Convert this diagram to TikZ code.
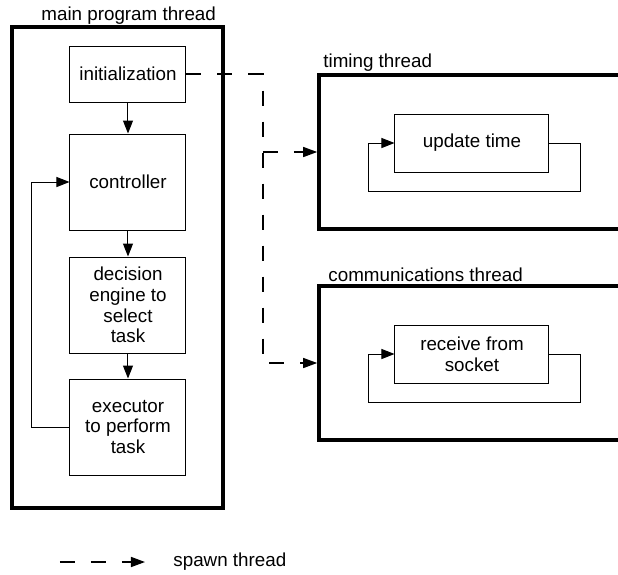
\documentclass[tikz,border=0pt]{standalone}
\usepackage{fontspec}
\setmainfont{Liberation Sans}
\usetikzlibrary{arrows.meta}
\begin{document}
\begin{tikzpicture}[x=0.5pt, y=-0.5pt,
  every node/.style={font=\fontsize{9.4}{10.3}\selectfont, inner sep=0pt},
  taskbox/.style={draw, line width=0.5pt, minimum width=58pt, align=center},
  threadbox/.style={draw, line width=1.8pt, minimum width=166pt, minimum height=77pt},
  flowarrow/.style={line width=0.5pt, -{Triangle[length=6.5pt,width=5pt]}},
  spawn/.style={line width=0.7pt, dash pattern=on 7.5pt off 8pt, -{Triangle[length=7pt,width=5pt]}}]
  \useasboundingbox (0,0) rectangle (618,575);
  \clip (0,0) rectangle (618,575);
  % main program thread
  \node[draw, line width=1.8pt, minimum width=105.5pt, minimum height=240.5pt] (main) at (117.5,267.5) {};
  \node[anchor=base west] (mainlab) at (41,20) {main program thread};
  \node[taskbox, minimum height=28pt] (init) at (128,74) {initialization};
  \node[taskbox, minimum height=48pt] (ctrl) at (128,182) {controller};
  \node[taskbox, minimum height=48pt] (decide) at (128,305) {decision\\engine to\\select\\task};
  \node[taskbox, minimum height=48pt] (exec) at (128,427) {executor\\to perform\\task};
  \draw[flowarrow] (init) -- (ctrl);
  \draw[flowarrow] (ctrl) -- (decide);
  \draw[flowarrow] (decide) -- (exec);
  \draw[flowarrow] (exec.west) -- ++(-38,0) |- (ctrl.west);
  % spawned threads
  \foreach \y/\name/\lx/\ly/\lab/\txt in {152/timing/323/67/{timing thread}/{update time}, 363/comms/328/281/{communications thread}/{receive from\\socket}} {
    \node[threadbox] (\name) at (485,\y) {};
    \node[anchor=base west] (\name-lab) at (\lx,\ly) {\lab};
    \node[taskbox, minimum width=77pt, minimum height=29pt] (\name-task) at (472,\y-9) {\txt};
    \draw[flowarrow] (\name-task.east) -- ++(31,0) -- ++(0,48) -- ++(-212,0) -- ++(0,-48) -- (\name-task.west);
  }
  \coordinate (fork) at (263,74);
  \coordinate (branch) at (263,152);
  \draw[spawn] (init) -- (fork) |- (comms);
  \draw[spawn] (branch) -- (timing);
  % legend
  \coordinate (legstart) at (60,562);
  \coordinate (legend-end) at (145,562);
  \node[anchor=west] (legend) at (173,562) {spawn thread};
  \draw[spawn] (legstart) -- (legend-end);
\end{tikzpicture}
\end{document}
